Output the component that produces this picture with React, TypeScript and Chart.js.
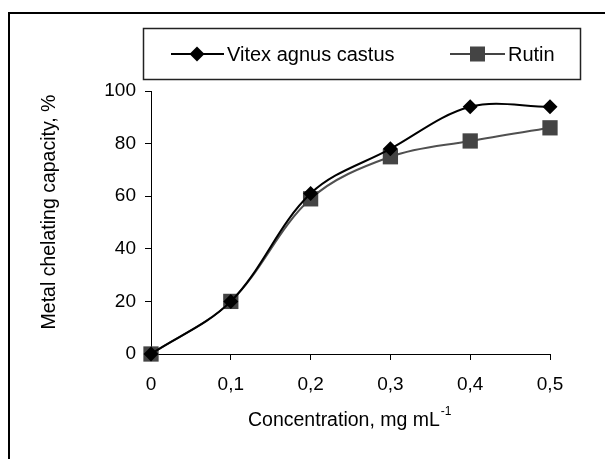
import React, { useEffect, useRef } from "react";
import { Chart, registerables } from "chart.js";

Chart.register(...registerables);

const concentrations = [0, 0.1, 0.2, 0.3, 0.4, 0.5];
const vitexValues = [0, 20, 61, 78, 94, 94];
const rutinValues = [0, 20, 59, 75, 81, 86];
const seriesNames = ["Vitex agnus castus", "Rutin"];
const xTitle = "Concentration, mg mL";
const xTitleSup = "-1";
const yTitle = "Metal chelating capacity, %";

const FONT = "'Liberation Sans', Arial, sans-serif";
const VITEX_COLOR = "#000000";
const RUTIN_COLOR = "#444444";

const decorPlugin = {
  id: "decor",
  afterDraw(chart: any) {
    const ctx = chart.ctx as CanvasRenderingContext2D;
    ctx.save();
    // outer frame (left & top visible)
    ctx.fillStyle = "#000";
    ctx.fillRect(8, 12, 2, 459 - 12);
    ctx.fillRect(8, 12, 605 - 8, 2);

    // legend box
    ctx.fillStyle = "#fff";
    ctx.fillRect(143, 28, 438, 52);
    ctx.strokeStyle = "#222";
    ctx.lineWidth = 1.5;
    ctx.strokeRect(143.5, 28.5, 437, 51);

    const ly = 54;
    ctx.font = `20px ${FONT}`;
    ctx.textBaseline = "middle";
    ctx.textAlign = "left";
    // Vitex entry
    ctx.strokeStyle = VITEX_COLOR;
    ctx.lineWidth = 2;
    ctx.beginPath();
    ctx.moveTo(171, ly);
    ctx.lineTo(224, ly);
    ctx.stroke();
    ctx.fillStyle = VITEX_COLOR;
    ctx.beginPath();
    ctx.moveTo(197, ly - 7.5);
    ctx.lineTo(204.5, ly);
    ctx.lineTo(197, ly + 7.5);
    ctx.lineTo(189.5, ly);
    ctx.closePath();
    ctx.fill();
    ctx.fillStyle = "#000";
    ctx.fillText(seriesNames[0], 227, ly + 1);
    // Rutin entry
    ctx.strokeStyle = RUTIN_COLOR;
    ctx.beginPath();
    ctx.moveTo(450, ly);
    ctx.lineTo(505, ly);
    ctx.stroke();
    ctx.fillStyle = RUTIN_COLOR;
    ctx.fillRect(470, ly - 7.5, 15, 15);
    ctx.fillStyle = "#000";
    ctx.fillText(seriesNames[1], 508, ly + 1);

    // x title with superscript
    ctx.font = `19.5px ${FONT}`;
    ctx.textBaseline = "middle";
    ctx.fillText(xTitle, 248, 421);
    const w = ctx.measureText(xTitle).width;
    ctx.font = `12px ${FONT}`;
    ctx.fillText(xTitleSup, 248 + w + 1, 412);

    // y title
    ctx.font = `19.5px ${FONT}`;
    ctx.translate(50, 212);
    ctx.rotate(-Math.PI / 2);
    ctx.textAlign = "center";
    ctx.fillText(yTitle, 0, 0);
    ctx.restore();
  },
};

export default function App() {
  const ref = useRef<HTMLCanvasElement>(null);
  useEffect(() => {
    document.body.style.margin = "0";
    const canvas = ref.current!;
    const fmt = (v: number) => (Math.abs(v) < 1e-9 ? "0" : v.toFixed(1).replace(".", ","));
    const chart = new Chart(canvas, {
      type: "line",
      data: {
        datasets: [
          {
            label: seriesNames[0],
            data: concentrations.map((x, i) => ({ x, y: vitexValues[i] })),
            borderColor: VITEX_COLOR,
            backgroundColor: VITEX_COLOR,
            borderWidth: 2,
            pointStyle: "rectRot",
            pointRadius: 7.5,
            pointBorderWidth: 0,
            tension: 0.35,
            clip: false,
          },
          {
            label: seriesNames[1],
            data: concentrations.map((x, i) => ({ x, y: rutinValues[i] })),
            borderColor: "#505050",
            backgroundColor: RUTIN_COLOR,
            borderWidth: 2,
            pointStyle: "rect",
            pointRadius: 10.8,
            pointBorderWidth: 0,
            tension: 0.35,
            clip: false,
          },
        ],
      },
      options: {
        animation: false,
        responsive: false,
        layout: { padding: { left: 0, top: 91, right: 55, bottom: 0 } },
        plugins: { legend: { display: false }, title: { display: false }, tooltip: { enabled: false } },
        scales: {
          x: {
            type: "linear",
            min: 0,
            max: 0.5,
            ticks: {
              stepSize: 0.1,
              color: "#000",
              font: { family: FONT, size: 19 },
              padding: 13,
              maxRotation: 0,
              callback: (v: any) => fmt(Number(v)),
            },
            grid: { drawOnChartArea: false, drawTicks: true, tickLength: 6, color: "#000", lineWidth: 1 },
            border: { display: true, color: "#000", width: 1 },
            afterFit: (s: any) => {
              s.height = 459 - 354;
            },
          },
          y: {
            min: 0,
            max: 100,
            ticks: {
              stepSize: 20,
              color: "#000",
              font: { family: FONT, size: 19 },
              padding: 9,
            },
            grid: { drawOnChartArea: false, drawTicks: true, tickLength: 6, color: "#000", lineWidth: 1 },
            border: { display: true, color: "#000", width: 1 },
            afterFit: (s: any) => {
              s.width = 151;
            },
          },
        },
      },
      plugins: [decorPlugin],
    } as any);
    return () => chart.destroy();
  }, []);
  return <canvas ref={ref} width={605} height={459} style={{ display: "block", width: 605, height: 459 }} />;
}
